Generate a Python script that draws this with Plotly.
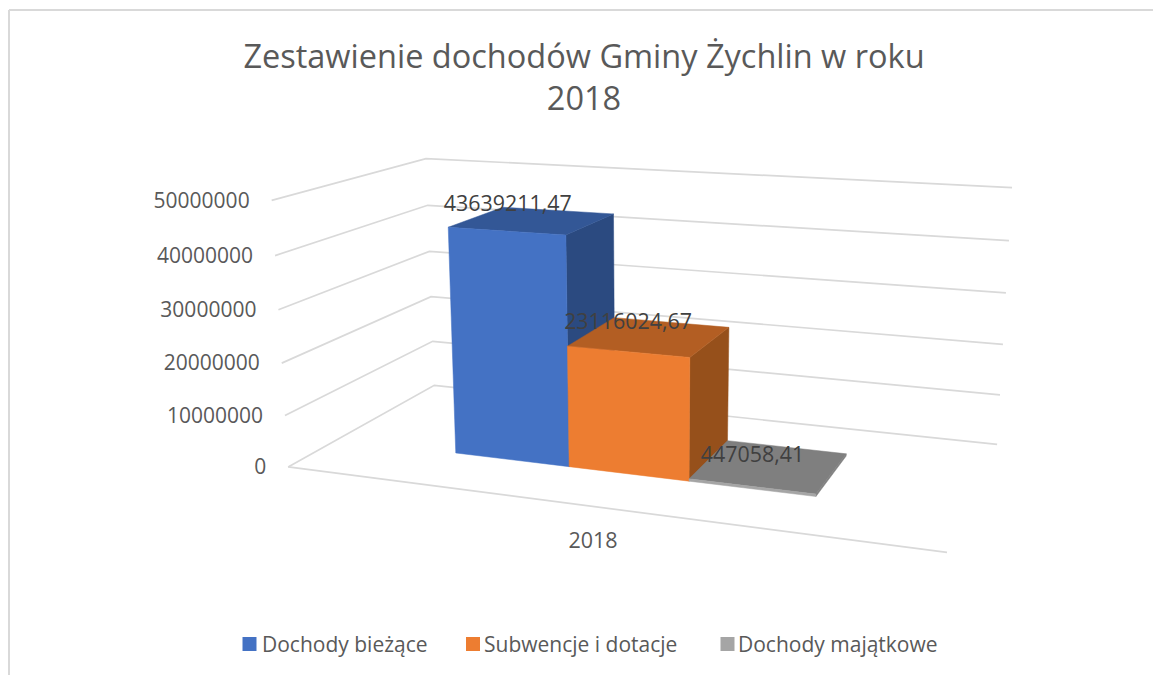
import numpy as np
import plotly.graph_objects as go

# ---- data ----
CATEGORY = "2018"
SERIES = ["Dochody bieżące", "Subwencje i dotacje", "Dochody majątkowe"]
VALUES = [43639211.47, 23116024.67, 447058.41]
VALUE_LABELS = ["43639211,47", "23116024,67", "447058,41"]
Z_TICKS = [0, 10000000, 20000000, 30000000, 40000000, 50000000]
TITLE = "Zestawienie dochodów Gminy Żychlin w roku<br>2018"

# ---- style ----
FRONT = ["#4472C4", "#ED7D31", "#A5A5A5"]
TOP = ["#335796", "#B35E23", "#7F7F7F"]
SIDE = ["#2B4A80", "#96501B", "#7F7F7F"]
GRID = "#D9D9D9"
TEXT = "#595959"
LABEL = "#404040"
FONT = "Open Sans"

# ---- 3D frame -> page: camera fitted to the corners of the chart's box ----
Z_MAX = Z_TICKS[-1]
CAMERA_FIT = [
    ((0, 0, 0), (288.5, 467)), ((0, 0, .2), (284.5, 416)), ((0, 0, .4), (282, 363)),
    ((0, 0, .6), (278, 310)), ((0, 0, .8), (275, 255)), ((0, 0, 1), (272, 200.5)),
    ((0, 1, 0), (434.5, 385)), ((0, 1, .2), (432, 341)), ((0, 1, .4), (431.5, 296.7)),
    ((0, 1, .6), (430, 251.7)), ((0, 1, .8), (427, 205.5)), ((0, 1, 1), (426, 158.5)),
    ((1, 1, 0), (997, 445)), ((1, 1, .2), (1000, 395)), ((1, 1, .4), (1003, 344)),
    ((1, 1, .6), (1006, 293)), ((1, 1, .8), (1009, 240)), ((1, 1, 1), (1012, 188)),
    ((1, 0, 0), (947, 552)),
]


def fit_camera(pairs):
    rows, rhs = [], []
    for (u, v, w), (px, py) in pairs:
        rows.append([u, v, w, 1, 0, 0, 0, 0, -px * u, -px * v, -px * w])
        rhs.append(px)
        rows.append([0, 0, 0, 0, u, v, w, 1, -py * u, -py * v, -py * w])
        rhs.append(py)
    sol = np.linalg.lstsq(np.array(rows), np.array(rhs), rcond=None)[0]
    return np.append(sol, 1.0).reshape(3, 4)


CAM = fit_camera(CAMERA_FIT)


def project(u, v, value):
    h = CAM @ np.array([u, v, value / Z_MAX, 1.0])
    return h[0] / h[2], h[1] / h[2]


def path(*corners):
    pts = [project(*c) for c in corners]
    pts.append(pts[0])
    return [p[0] for p in pts], [p[1] for p in pts]


# ---- bar footprint in the box ----
BAR_U0, BAR_U1 = 0.2105, 0.788
BAR_V0, BAR_V1 = 0.308, 0.712
BAR_W = (BAR_U1 - BAR_U0) / len(SERIES)

fig = go.Figure()


def add_poly(xy, color):
    fig.add_trace(go.Scatter(x=xy[0], y=xy[1], mode="lines", fill="toself", fillcolor=color,
                             line=dict(color=color, width=0.5), hoverinfo="skip", showlegend=False))


def add_line(corners):
    pts = [project(*c) for c in corners]
    fig.add_trace(go.Scatter(x=[p[0] for p in pts], y=[p[1] for p in pts], mode="lines",
                             line=dict(color=GRID, width=1.7), hoverinfo="skip", showlegend=False))


def add_text(x, y, s, size, color, pos):
    fig.add_trace(go.Scatter(x=[x], y=[y], mode="text", text=[s], textposition=pos,
                             textfont=dict(family=FONT, size=size, color=color),
                             hoverinfo="skip", showlegend=False))


# gridlines on the two walls, floor front edge
for t in Z_TICKS:
    add_line([(0, 0, t), (0, 1, t), (1, 1, t)])
add_line([(0, 0, 0), (1, 0, 0)])

# value axis labels
for t in Z_TICKS:
    x, y = project(0, 0, t)
    add_text(x - 22, y + 2, str(t), 21, TEXT, "middle left")

# bars
LABEL_OFFSET = [(-25, -15), (-22, -13), (-17, -9)]
for i, val in enumerate(VALUES):
    u0, u1 = BAR_U0 + i * BAR_W, BAR_U0 + (i + 1) * BAR_W
    v0, v1 = BAR_V0, BAR_V1
    add_poly(path((u1, v0, 0), (u1, v1, 0), (u1, v1, val), (u1, v0, val)), SIDE[i])
    add_poly(path((u0, v0, val), (u1, v0, val), (u1, v1, val), (u0, v1, val)), TOP[i])
    add_poly(path((u0, v0, 0), (u1, v0, 0), (u1, v0, val), (u0, v0, val)), FRONT[i])

for i, (val, lab) in enumerate(zip(VALUES, VALUE_LABELS)):
    u0, u1 = BAR_U0 + i * BAR_W, BAR_U0 + (i + 1) * BAR_W
    x, y = project((u0 + u1) / 2, (BAR_V0 + BAR_V1) / 2, val)
    add_text(x + LABEL_OFFSET[i][0], y + LABEL_OFFSET[i][1], lab, 21.4, LABEL, "middle center")

# category label
add_text(593, 543, CATEGORY, 21.5, TEXT, "middle center")

# legend
LEGEND_X = [249.5, 473, 727.5]
LEGEND_TEXT_X = [262, 484, 738]
for name, color, lx, tx in zip(SERIES, FRONT, LEGEND_X, LEGEND_TEXT_X):
    fig.add_trace(go.Scatter(x=[lx], y=[644], mode="markers",
                             marker=dict(symbol="square", size=14, color=color),
                             hoverinfo="skip", showlegend=False))
    add_text(tx, 646.5, name, 21, TEXT, "middle right")

fig.update_layout(
    width=1153, height=675, margin=dict(l=0, r=0, t=0, b=0),
    paper_bgcolor="white", plot_bgcolor="white", showlegend=False,
    xaxis=dict(range=[0, 1153], visible=False, fixedrange=True),
    yaxis=dict(range=[675, 0], visible=False, fixedrange=True),
    title=dict(text=TITLE, x=584 / 1153, xanchor="center", y=1 - 68 / 675, yanchor="top",
               font=dict(family=FONT, size=32.5, color=TEXT)),
    shapes=[
        dict(type="line", x0=9, x1=9, y0=10, y1=675, line=dict(color=GRID, width=2)),
        dict(type="line", x0=9, x1=1153, y0=10, y1=10, line=dict(color=GRID, width=2)),
    ],
)

fig.write_html("out.html", config=dict(displayModeBar=False),
               post_script="document.body.style.margin='0';document.body.style.overflow='hidden';")
